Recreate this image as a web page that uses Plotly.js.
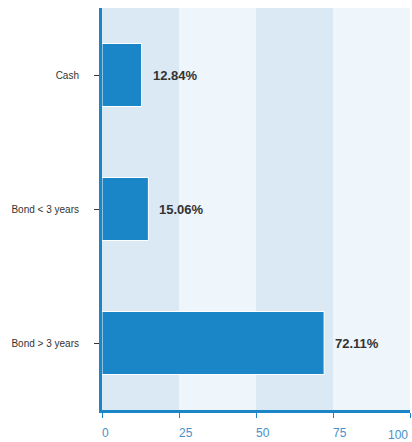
<!DOCTYPE html>
<html>
<head>
<meta charset="utf-8">
<script src="https://cdn.plot.ly/plotly-3.0.1.min.js"></script>
<style>html,body{margin:0;padding:0;background:#fff;}#chart{width:412px;height:442px;}</style>
</head>
<body>
<div id="chart"></div>
<script>
const categories = ["Cash", "Bond < 3 years", "Bond > 3 years"];
const values = [12.84, 15.06, 72.11];
const labels = ["12.84%", "15.06%", "72.11%"];
const tickVals = [0, 25, 50, 75, 100];
const tickText = ["0", "25", "50", "75", "100"];

const bandColors = ["#dbe9f5", "#eef5fb"];
const shapes = [];
for (let i = 0; i < tickVals.length - 1; i++) {
  shapes.push({
    type: "rect", xref: "x", yref: "paper",
    x0: tickVals[i], x1: tickVals[i + 1], y0: 0, y1: 1,
    fillcolor: bandColors[i % 2], line: {width: 0}, layer: "below"
  });
}

const annotations = categories.map((c, i) => ({
  x: values[i], y: c, xref: "x", yref: "y",
  text: labels[i], showarrow: false,
  xanchor: "left", yanchor: "middle", xshift: 9,
  font: {family: "Liberation Sans, Arial, sans-serif", size: 13, color: "#333333", weight: "bold"}
}));

const trace = {
  type: "bar", orientation: "h",
  x: values, y: categories,
  marker: {color: "#1a86c8", line: {color: "#ffffff", width: 1}},
  width: 0.47,
  hoverinfo: "none"
};
// empty helper trace so the overlaying axis (last tick label) is drawn
const helper = {type: "scatter", x: [], y: [], xaxis: "x2", yaxis: "y", hoverinfo: "none", showlegend: false};

const tickFont = {family: "Liberation Sans, Arial, sans-serif", size: 12, color: "#4a90c8"};
const nLast = tickVals.length - 1;

const layout = {
  width: 412, height: 442,
  margin: {l: 102, r: 2, t: 8, b: 32},
  paper_bgcolor: "#ffffff", plot_bgcolor: "#ffffff",
  showlegend: false,
  shapes: shapes,
  annotations: annotations,
  xaxis: {
    range: [tickVals[0], tickVals[nLast]],
    tickvals: tickVals.slice(0, nLast), ticktext: tickText.slice(0, nLast),
    showgrid: false, zeroline: false,
    showline: true, linecolor: "#1a86c8", linewidth: 3,
    ticks: "outside", ticklen: 5, tickwidth: 1, tickcolor: "#1a86c8",
    tickfont: tickFont, ticklabelposition: "outside right",
    ticklabelstandoff: 10, ticklabelshift: -2,
    fixedrange: true
  },
  xaxis2: {
    overlaying: "x", side: "bottom",
    range: [tickVals[0], tickVals[nLast]],
    tickvals: tickVals.slice(nLast), ticktext: tickText.slice(nLast),
    showgrid: false, zeroline: false,
    showline: true, linecolor: "#1a86c8", linewidth: 3,
    ticks: "outside", ticklen: 5, tickwidth: 1, tickcolor: "#1a86c8",
    tickfont: tickFont, ticklabelposition: "outside left",
    ticklabelstandoff: 12,
    fixedrange: true
  },
  yaxis: {
    autorange: "reversed", type: "category",
    showgrid: false, zeroline: false,
    showline: true, linecolor: "#1a86c8", linewidth: 3,
    ticks: "outside", ticklen: 5, tickwidth: 1, tickcolor: "#333333",
    tickfont: {family: "Liberation Sans, Arial, sans-serif", size: 10, color: "#333333"},
    ticklabelstandoff: 13,
    fixedrange: true
  }
};

Plotly.newPlot("chart", [trace, helper], layout, {displayModeBar: false, staticPlot: true});
</script>
</body>
</html>
